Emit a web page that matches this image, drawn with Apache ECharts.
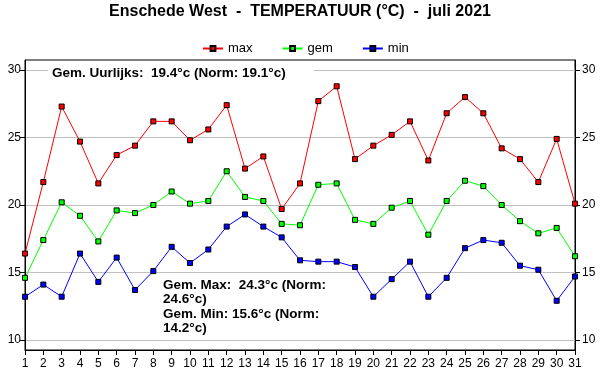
<!DOCTYPE html>
<html>
<head>
<meta charset="utf-8">
<script src="https://cdn.jsdelivr.net/npm/echarts@6/dist/echarts.min.js"></script>
<style>html,body{margin:0;padding:0;background:#fff;}#c{width:600px;height:390px;}</style>
</head>
<body>
<div id="c"></div>
<script>
const days = ['1','2','3','4','5','6','7','8','9','10','11','12','13','14','15','16','17','18','19','20','21','22','23','24','25','26','27','28','29','30','31'];
const maxT = [16.4,21.7,27.3,24.7,21.6,23.7,24.4,26.2,26.2,24.8,25.6,27.4,22.7,23.6,19.7,21.6,27.7,28.8,23.4,24.4,25.2,26.2,23.3,26.8,28.0,26.8,24.2,23.4,21.7,24.9,20.1];
const gemT = [14.6,17.4,20.2,19.2,17.3,19.6,19.4,20.0,21.0,20.1,20.3,22.5,20.6,20.3,18.6,18.5,21.5,21.6,18.9,18.6,19.8,20.3,17.8,20.3,21.8,21.4,20.0,18.8,17.9,18.3,16.2];
const minT = [13.2,14.1,13.2,16.4,14.3,16.1,13.7,15.1,16.9,15.7,16.7,18.4,19.3,18.4,17.6,15.9,15.8,15.8,15.4,13.2,14.5,15.8,13.2,14.6,16.8,17.4,17.2,15.5,15.2,12.9,14.7];
const yTicks = [10,15,20,25,30];
const seriesNames = ['max','gem','min'];
const seriesColors = ['#ff0000','#00ff00','#0000ff'];
const titleText = 'Enschede West  -  TEMPERATUUR (°C)  -  juli 2021';
const noteTop = 'Gem. Uurlijks:  19.4°c (Norm: 19.1°c)';
const noteBottom = 'Gem. Max:  24.3°c (Norm:\n24.6°c)\nGem. Min: 15.6°c (Norm:\n14.2°c)';

const FONT = 'Liberation Sans, Arial, sans-serif';
const chart = echarts.init(document.getElementById('c'), null, {renderer: 'canvas'});
const dataSets = [maxT, gemT, minT];
const yAxisCommon = {
  type: 'value', min: 9.25, max: 30.75,
  axisLine: {show: true, lineStyle: {color: '#000', width: 1}},
  axisTick: {show: true, inside: false, length: 5, lineStyle: {color: '#000'}, customValues: yTicks},
};
chart.setOption({
  animation: false,
  backgroundColor: '#fff',
  title: [
    {text: titleText, left: 'center', top: 4, padding: 0, textStyle: {fontSize: 16, fontWeight: 'bold', color: '#000', fontFamily: FONT}},
    {text: noteTop, left: 48, top: 64, padding: [2, 28, 2, 4], backgroundColor: '#fff', textStyle: {fontSize: 13.5, fontWeight: 'bold', color: '#000', fontFamily: FONT}},
    {text: noteBottom, left: 159, top: 276, padding: [2, 4, 2, 4], textStyle: {fontSize: 13.5, fontWeight: 'bold', color: '#000', fontFamily: FONT, lineHeight: 14.5}}
  ],
  legend: {
    data: seriesNames, left: 197, top: 37, itemWidth: 20, itemHeight: 6, itemGap: 29,
    textStyle: {fontSize: 13, color: '#000', fontFamily: FONT}
  },
  grid: {left: 25, right: 25, top: 60, bottom: 40, show: true, borderColor: '#000', borderWidth: 1, backgroundColor: 'transparent'},
  xAxis: {
    type: 'category', data: days, boundaryGap: false,
    axisLine: {show: true, lineStyle: {color: '#000'}},
    axisTick: {show: true, length: 5, alignWithLabel: true, lineStyle: {color: '#000'}},
    axisLabel: {color: '#000', fontSize: 12, fontFamily: FONT, margin: 8, interval: 0},
    splitLine: {show: false}
  },
  yAxis: [
    Object.assign({}, yAxisCommon, {position: 'left',
      axisLabel: {color: '#000', fontSize: 12, fontFamily: FONT, margin: 4, customValues: yTicks},
      splitLine: {show: true, lineStyle: {color: '#c0c0c0', width: 1}}}),
    Object.assign({}, yAxisCommon, {position: 'right',
      axisLabel: {color: '#000', fontSize: 12, fontFamily: FONT, margin: 7, customValues: yTicks},
      splitLine: {show: false}})
  ],
  series: seriesNames.map((n, i) => ({
    name: n, type: 'line', data: dataSets[i], yAxisIndex: 0,
    symbol: 'rect', symbolSize: 5, showAllSymbol: true,
    lineStyle: {color: seriesColors[i], width: 1},
    itemStyle: {color: seriesColors[i], borderColor: '#000', borderWidth: 1},
    emphasis: {disabled: true}
  }))
});
</script>
</body>
</html>
